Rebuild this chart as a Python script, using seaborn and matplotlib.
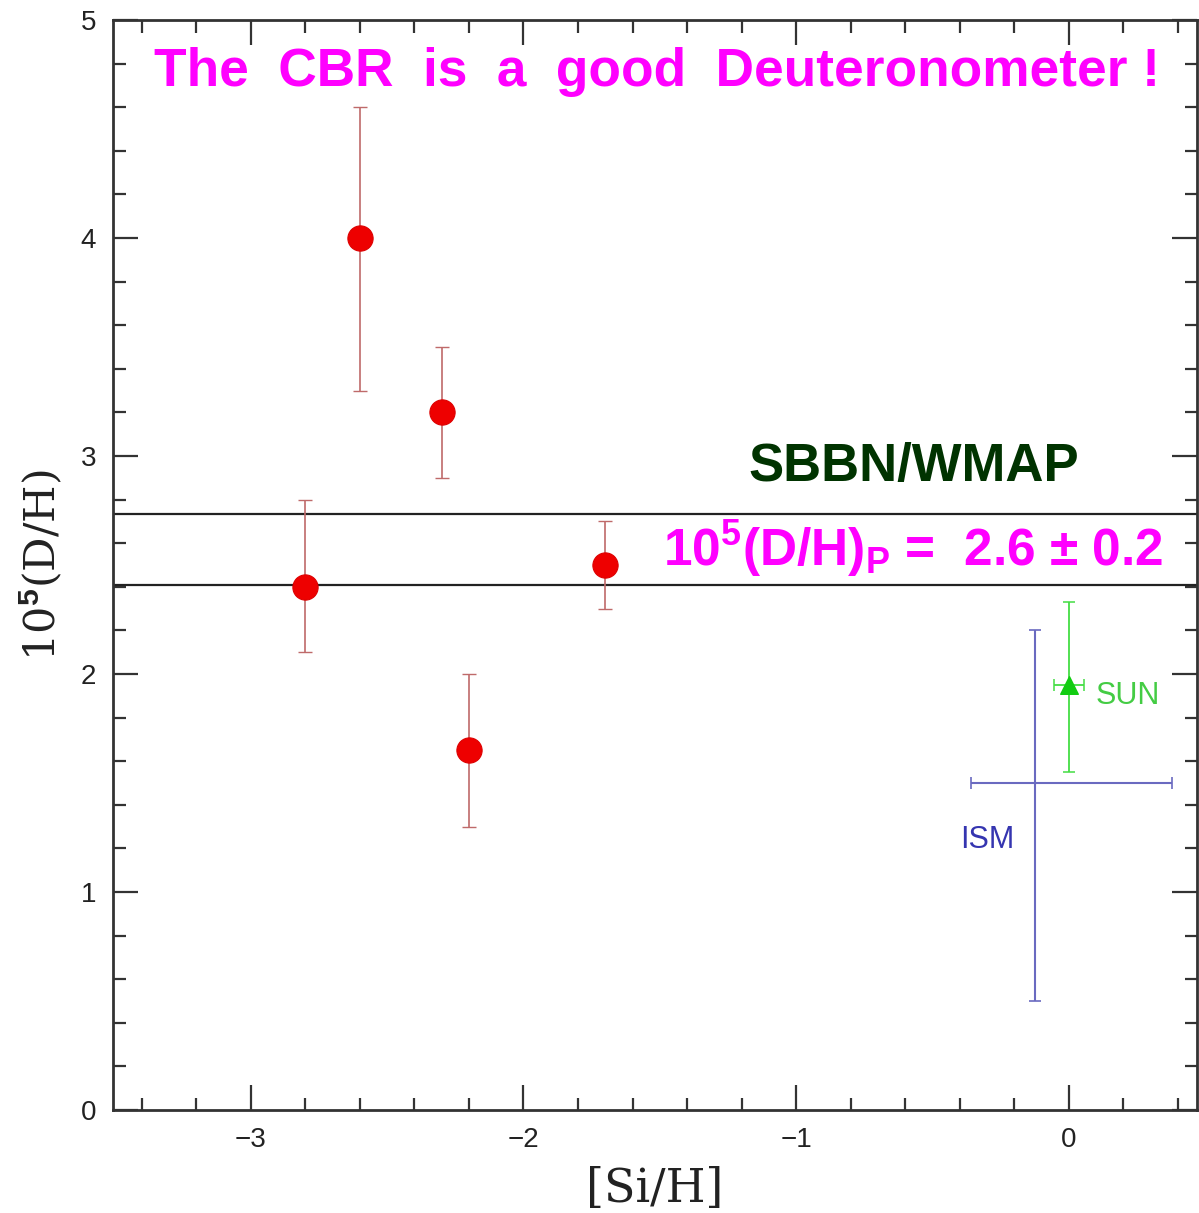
import matplotlib
matplotlib.use("Agg")
import matplotlib.pyplot as plt
from matplotlib.ticker import MultipleLocator
import seaborn as sns
import pandas as pd

# Quasar absorber deuterium measurements
si_h = [-2.8, -2.6, -2.3, -2.2, -1.7]
d_h = [2.40, 4.00, 3.20, 1.65, 2.50]
d_h_lo = [2.10, 3.30, 2.90, 1.30, 2.30]
d_h_hi = [2.80, 4.60, 3.50, 2.00, 2.70]

# Solar value
sun_x = [0.0]
sun_y = [1.95]
sun_xerr = [0.055]
sun_lo = [1.55]
sun_hi = [2.33]

# Interstellar medium
ism_x = [-0.125]
ism_y = [1.50]
ism_x_lo = [-0.36]
ism_x_hi = [0.38]
ism_lo = [0.50]
ism_hi = [2.20]

# SBBN/WMAP band edges
band_edges = [2.41, 2.735]

x_ticks = [-3, -2, -1, 0]
y_ticks = [0, 1, 2, 3, 4, 5]

sns.set_style("ticks")
plt.rcParams["font.family"] = ["Liberation Sans", "DejaVu Sans"]
plt.rcParams["mathtext.fontset"] = "custom"
plt.rcParams["mathtext.rm"] = "Liberation Sans:bold"
plt.rcParams["mathtext.it"] = "Liberation Sans:bold"
plt.rcParams["mathtext.bf"] = "Liberation Sans:bold"

fig = plt.figure(figsize=(11.99, 12.13), dpi=100)
ax = fig.add_axes([113 / 1199, 1 - 1110 / 1213, (1197 - 113) / 1199, (1110 - 20) / 1213])

df = pd.DataFrame({"x": si_h, "y": d_h})

# band
for yb in band_edges:
    ax.axhline(yb, color="#222222", lw=1.6, zorder=1)

# error bars for absorbers
yerr = [[y - lo for y, lo in zip(d_h, d_h_lo)], [hi - y for y, hi in zip(d_h, d_h_hi)]]
ax.errorbar(si_h, d_h, yerr=yerr, fmt="none", ecolor="#bf6a6a", elinewidth=1.2,
            capsize=5, capthick=1.0, zorder=2)
sns.scatterplot(data=df, x="x", y="y", ax=ax, color="#ee0000", s=330,
                edgecolor="#dd0000", linewidth=0.8, zorder=3, legend=False)

# ISM
ax.errorbar(ism_x, ism_y,
            xerr=[[ism_x[0] - ism_x_lo[0]], [ism_x_hi[0] - ism_x[0]]],
            yerr=[[ism_y[0] - ism_lo[0]], [ism_hi[0] - ism_y[0]]],
            fmt="none", ecolor="#6a6ac0", elinewidth=1.5, capsize=4, capthick=1.2, zorder=2)

# SUN
ax.errorbar(sun_x, sun_y, xerr=[sun_xerr],
            yerr=[[sun_y[0] - sun_lo[0]], [sun_hi[0] - sun_y[0]]],
            fmt="none", ecolor="#44dd44", elinewidth=1.3, capsize=4, capthick=1.1, zorder=2)
sns.scatterplot(x=sun_x, y=sun_y, ax=ax, marker="^", color="#11cc11", s=160,
                edgecolor="#11cc11", zorder=3, legend=False)

ax.text(0.1, 1.9, "SUN", color="#44cc44", fontsize=22, va="center", ha="left")
ax.text(-0.2, 1.24, "ISM", color="#3535b0", fontsize=22, va="center", ha="right")

# annotations
ax.text(-1.511, 4.875, "The  CBR  is  a  good  Deuteronometer !", color="#ff00ff",
        fontsize=38.3, fontweight="bold", ha="center", va="top")
ax.text(-0.57, 2.95, "SBBN/WMAP", color="#003300", fontsize=38, fontweight="bold",
        ha="center", va="center")
ax.text(-0.57, 2.57, r"$10^{5}$(D/H)$_{\mathrm{P}}$ =  2.6 ± 0.2", color="#ff00ff",
        fontsize=37, fontweight="bold", ha="center", va="center")

ax.set_xlim(-3.505, 0.47)
ax.set_ylim(0, 5)
ax.set_xticks(x_ticks)
ax.set_yticks(y_ticks)
ax.xaxis.set_minor_locator(MultipleLocator(0.2))
ax.yaxis.set_minor_locator(MultipleLocator(0.2))
ax.tick_params(which="both", direction="in", top=True, right=True, color="#333333",
               width=1.6, labelsize=20, pad=12, labelcolor="#222222")
ax.tick_params(which="major", length=18)
ax.tick_params(which="minor", length=9)
for s in ax.spines.values():
    s.set_linewidth(2.0)
    s.set_color("#333333")

ax.set_xlabel("[Si/H]", fontsize=33, family=["DejaVu Serif"], labelpad=10, color="#222222")
ax.set_ylabel(r"10$^{5}$(D/H)", fontsize=31, family=["DejaVu Serif"], labelpad=12,
              color="#222222")

fig.savefig("out.png", dpi=100, facecolor="white")
